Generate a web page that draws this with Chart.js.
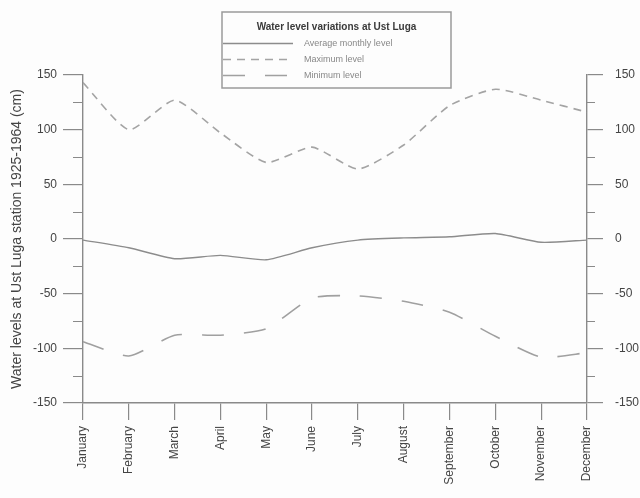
<!DOCTYPE html>
<html>
<head>
<meta charset="utf-8">
<script src="https://cdn.jsdelivr.net/npm/chart.js@4/dist/chart.umd.min.js"></script>
<style>
  html, body { margin: 0; padding: 0; background: #fdfdfd; }
  #wrap { width: 640px; height: 498px; }
</style>
</head>
<body>
<div id="wrap"><canvas id="c" width="640" height="498"></canvas></div>
<script>
// Monthly water levels at Ust Luga station, 1925-1964 (cm)
const months = ['January','February','March','April','May','June','July','August','September','October','November','December'];
const averageLevel = [-1, -8, -18, -15, -19, -8, -1, 1, 2, 5, -3, -1];
const maximumLevel = [143, 100, 127, 97, 70, 84, 64, 86, 122, 137, 127, 116];
const minimumLevel = [-94, -107, -88, -88, -82, -54, -52, -57, -67, -89, -108, -104];
const yTicks = [-150, -100, -50, 0, 50, 100, 150];

const legendTitle = 'Water level variations at Ust Luga';
const yTitle = 'Water levels at Ust Luga station 1925-1964 (cm)';

const FONT = '"Liberation Sans", Arial, sans-serif';
const AXIS = '#8a8a8a';

// Short minor ticks half-way between the labelled ones, plus the framed legend
const extras = {
  id: 'extras',
  afterDraw(chart) {
    const ctx = chart.ctx;
    const yl = chart.scales.y, yr = chart.scales.y2;
    ctx.save();
    ctx.strokeStyle = AXIS;
    ctx.lineWidth = 1.2;
    for (let i = 0; i < yTicks.length - 1; i++) {
      const v = (yTicks[i] + yTicks[i + 1]) / 2;
      const py = Math.round(yl.getPixelForValue(v)) + 0.5;
      ctx.beginPath();
      ctx.moveTo(yl.right - 10, py); ctx.lineTo(yl.right, py);
      ctx.moveTo(yr.left, py); ctx.lineTo(yr.left + 8, py);
      ctx.stroke();
    }

    // legend box
    const bx = 222, by = 12, bw = 229, bh = 76;
    ctx.strokeStyle = '#9a9a9a';
    ctx.lineWidth = 1.5;
    ctx.strokeRect(bx, by, bw, bh);
    ctx.fillStyle = '#3a3a3a';
    ctx.font = 'bold 10px ' + FONT;
    ctx.textAlign = 'center';
    ctx.textBaseline = 'middle';
    ctx.fillText(legendTitle, bx + bw / 2, by + 15);

    ctx.textAlign = 'left';
    ctx.font = '9px ' + FONT;
    const rows = [31, 47, 63];
    chart.data.datasets.forEach((ds, i) => {
      const ly = by + rows[i] + 0.5;
      ctx.strokeStyle = ds.borderColor;
      ctx.lineWidth = 1.3;
      ctx.setLineDash(ds.borderDash || []);
      ctx.beginPath();
      ctx.moveTo(bx + 1, ly); ctx.lineTo(bx + 71, ly);
      ctx.stroke();
      ctx.setLineDash([]);
      ctx.fillStyle = '#888';
      ctx.fillText(ds.label, bx + 82, ly);
    });
    ctx.restore();
  }
};

new Chart(document.getElementById('c'), {
  type: 'line',
  data: {
    labels: months,
    datasets: [
      { label: 'Average monthly level', data: averageLevel, borderColor: '#8c8c8c', borderWidth: 1.4, tension: 0.2 },
      { label: 'Maximum level', data: maximumLevel, borderColor: '#a4a4a4', borderWidth: 1.6, borderDash: [8, 6], tension: 0.2 },
      { label: 'Minimum level', data: minimumLevel, borderColor: '#a0a0a0', borderWidth: 1.6, borderDash: [22, 20], tension: 0.2 }
    ]
  },
  options: {
    responsive: false,
    animation: false,
    layout: { padding: { top: 75, left: 9, right: 0, bottom: 0 } },
    elements: { point: { radius: 0 } },
    plugins: { legend: { display: false }, tooltip: { enabled: false } },
    scales: {
      x: {
        offset: false,
        grid: { drawOnChartArea: false, tickLength: 17, color: AXIS, lineWidth: 1.2 },
        border: { color: AXIS, width: 1.4 },
        ticks: { minRotation: 90, maxRotation: 90, autoSkip: false, padding: 6, color: '#444', font: { family: FONT, size: 12 } },
        afterFit(s) { s.height = 95; }
      },
      y: {
        position: 'left',
        min: -150, max: 150,
        afterBuildTicks(s) { s.ticks = yTicks.map(v => ({ value: v })); },
        grid: { drawOnChartArea: false, tickLength: 20, color: AXIS, lineWidth: 1.2 },
        border: { color: AXIS, width: 1.4 },
        ticks: { padding: 6, color: '#444', font: { family: FONT, size: 12 } },
        title: { display: true, text: yTitle, color: '#444', padding: { top: 0, bottom: 0 }, font: { family: FONT, size: 14 } },
        afterFit(s) { s.width = 74; }
      },
      y2: {
        position: 'right',
        min: -150, max: 150,
        afterBuildTicks(s) { s.ticks = yTicks.map(v => ({ value: v })); },
        grid: { drawOnChartArea: false, tickLength: 16, color: AXIS, lineWidth: 1.2 },
        border: { color: AXIS, width: 1.4 },
        ticks: { padding: 12, color: '#444', font: { family: FONT, size: 12 } },
        afterFit(s) { s.width = 53; }
      }
    }
  },
  plugins: [extras]
});
</script>
</body>
</html>
